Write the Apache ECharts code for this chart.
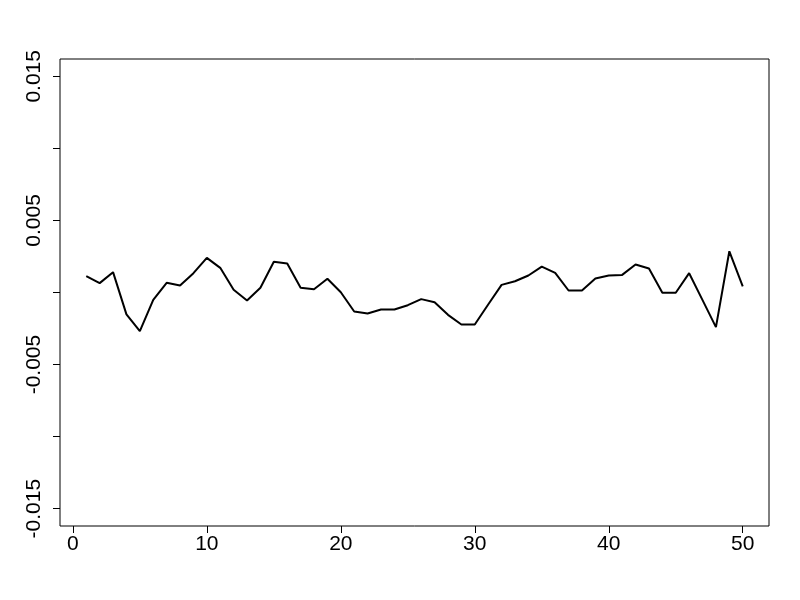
<!DOCTYPE html>
<html>
<head>
<meta charset="utf-8">
<script src="https://cdn.jsdelivr.net/npm/echarts@6/dist/echarts.min.js"></script>
<style>
  html, body { margin: 0; padding: 0; background: #fff; }
  #chart { width: 800px; height: 600px; }
</style>
</head>
<body>
<div id="chart"></div>
<script>
// index of each observation
var idx = [1, 2, 3, 4, 5, 6, 7, 8, 9, 10,
  11, 12, 13, 14, 15, 16, 17, 18, 19, 20,
  21, 22, 23, 24, 25, 26, 27, 28, 29, 30,
  31, 32, 33, 34, 35, 36, 37, 38, 39, 40,
  41, 42, 43, 44, 45, 46, 47, 48, 49, 50];
// values
var vals = [0.00113, 0.00065, 0.00141, -0.00152, -0.00268, -0.00051, 0.00067, 0.00048, 0.00134, 0.0024,
  0.00171, 0.00019, -0.00055, 0.00033, 0.00213, 0.00201, 0.00033, 0.00023, 0.00095, 0.00002,
  -0.00132, -0.00146, -0.00118, -0.00118, -0.00088, -0.00046, -0.00067, -0.00155, -0.00222, -0.00222,
  -0.00083, 0.00053, 0.00078, 0.00118, 0.0018, 0.00136, 0.00014, 0.00014, 0.00097, 0.00118,
  0.00122, 0.00194, 0.00166, -0.00002, -0.00002, 0.00134, -0.00053, -0.0024, 0.00286, 0.00042];
var xTicks = [0, 10, 20, 30, 40, 50];
var yTicks = [-0.015, -0.01, -0.005, 0, 0.005, 0.01, 0.015];
var yLabels = [-0.015, -0.005, 0.005, 0.015];

var pts = idx.map(function (x, i) { return [x, vals[i]]; });

var chart = echarts.init(document.getElementById('chart'));
var font = 'Liberation Sans, Arial, sans-serif';
chart.setOption({
  animation: false,
  backgroundColor: '#fff',
  grid: {
    left: 60, right: 31, top: 59, bottom: 74,
    show: true, borderColor: '#000', borderWidth: 1
  },
  xAxis: {
    type: 'value',
    min: -0.96, max: 51.96,
    axisLine: { show: false, onZero: false },
    splitLine: { show: false },
    axisTick: { show: true, inside: false, length: 7, lineStyle: { color: '#000' }, customValues: xTicks },
    axisLabel: {
      color: '#000', fontSize: 21, fontFamily: font, margin: 8,
      customValues: xTicks
    }
  },
  yAxis: {
    type: 'value',
    min: -0.0162, max: 0.0162,
    axisLine: { show: false, onZero: false },
    splitLine: { show: false },
    axisTick: { show: true, inside: false, length: 7, lineStyle: { color: '#000' }, customValues: yTicks },
    axisLabel: {
      color: '#000', fontSize: 21, fontFamily: font, margin: 15, rotate: 90,
      customValues: yLabels,
      formatter: function (v) { return v.toFixed(3); }
    }
  },
  series: [{
    type: 'line',
    data: pts,
    showSymbol: false,
    lineStyle: { color: '#000', width: 2 },
    itemStyle: { color: '#000' }
  }]
});
</script>
</body>
</html>
